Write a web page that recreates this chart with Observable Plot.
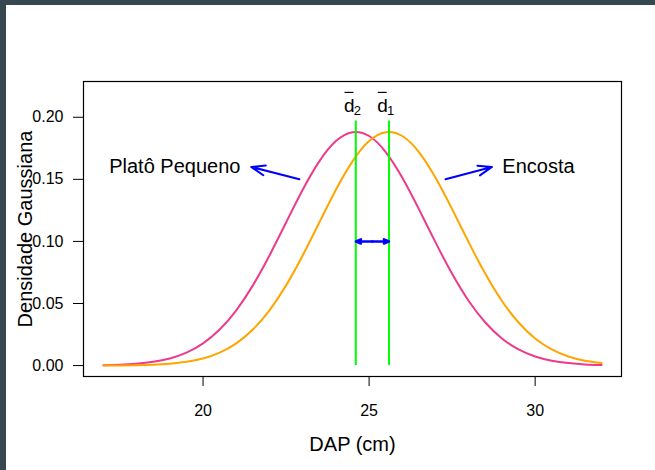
<!DOCTYPE html>
<html><head><meta charset="utf-8">
<script src="https://cdn.jsdelivr.net/npm/d3@7"></script>
<script src="https://cdn.jsdelivr.net/npm/@observablehq/plot@0.6"></script>
<style>
html,body{margin:0;padding:0;background:#fff;}
#wrap{position:relative;width:655px;height:470px;overflow:hidden;background:#fff;}
#chart svg{display:block;}
.bt{position:absolute;left:0;top:0;width:655px;height:5px;background:#37474f;}
.bl{position:absolute;left:0;top:0;width:6px;height:470px;background:#37474f;}
</style></head><body>
<div id="wrap"><div id="chart"></div><div class="bt"></div><div class="bl"></div></div>
<script>
// DAP (cm) sample positions
const dap = [17,17.5,18,18.5,19,19.5,20,20.5,21,21.5,22,22.5,23,23.5,24,24.5,25,25.5,26,26.5,27,27.5,28,28.5,29,29.5,30,30.5,31,31.5,32];
// Gaussian density: Platô Pequeno (pink)
const platoPequeno = [0.0003,0.0007,0.0015,0.0030,0.0057,0.0104,0.0179,0.0290,0.0445,0.0646,0.0887,0.1152,0.1416,0.1645,0.1808,0.1880,0.1849,0.1720,0.1513,0.1260,0.0992,0.0739,0.0520,0.0347,0.0218,0.0130,0.0073,0.0039,0.0020,0.0009,0.0004];
// Encosta (orange)
const encosta = [0.0001,0.0001,0.0003,0.0007,0.0015,0.0030,0.0057,0.0104,0.0179,0.0290,0.0445,0.0646,0.0887,0.1152,0.1416,0.1645,0.1808,0.1880,0.1849,0.1720,0.1513,0.1260,0.0992,0.0739,0.0520,0.0347,0.0218,0.0130,0.0073,0.0039,0.0020];
// means: d2 (Platô Pequeno), d1 (Encosta)
const means = [24.6, 25.6];
const meanSubs = ["2", "1"];
const meanLineTop = 0.197;
const meanLabelY = 0.209;
const overlineY = 0.22;
const doubleArrowY = 0.10;
const xTicks = [20, 25, 30];
const yTicks = [0, 0.05, 0.10, 0.15, 0.20];
const groupNames = ["Platô Pequeno", "Encosta"];
const groupLabelX = [19.15, 30.1];
const groupLabelY = [0.16, 0.16];
const arrowTailX = [22.9, 27.3];
const arrowTailY = [0.15, 0.15];
const arrowTipX = [21.45, 28.7];
const arrowTipY = [0.16, 0.16];

const pinkRows = dap.map((x, i) => ({x, y: platoPequeno[i]}));
const orangeRows = dap.map((x, i) => ({x, y: encosta[i]}));
const meanRows = means.map((m, i) => ({m, sub: meanSubs[i]}));
const labelRows = groupNames.map((t, i) => ({t, x: groupLabelX[i], y: groupLabelY[i]}));
const arrowRows = groupNames.map((t, i) => ({x1: arrowTailX[i], y1: arrowTailY[i], x2: arrowTipX[i], y2: arrowTipY[i]}));
const mid = (means[0] + means[1]) / 2;
const dblRows = means.map(m => ({x1: mid, x2: m, y: doubleArrowY}));

const chart = Plot.plot({
  width: 655,
  height: 470,
  marginLeft: 83,
  marginRight: 34,
  marginTop: 81,
  marginBottom: 94,
  style: {fontFamily: "'Liberation Sans', Arial, sans-serif", fontSize: "16px", background: "transparent", color: "black"},
  x: {domain: [16.4, 32.6]},
  y: {domain: [-0.0088, 0.2288]},
  marks: [
    Plot.frame({stroke: "black", strokeWidth: 1.2}),
    Plot.axisX({ticks: xTicks, tickSize: 10, tickPadding: 18, label: null, fontSize: 16}),
    Plot.axisY({ticks: yTicks, tickFormat: d3.format(".2f"), tickSize: 10, tickPadding: 10, label: null, fontSize: 16}),
    Plot.line(pinkRows, {x: "x", y: "y", stroke: "#EE3A8C", strokeWidth: 2, curve: "natural"}),
    Plot.line(orangeRows, {x: "x", y: "y", stroke: "#FFA500", strokeWidth: 2, curve: "natural"}),
    Plot.ruleX(meanRows, {x: "m", y1: 0, y2: meanLineTop, stroke: "#00FF00", strokeWidth: 2}),
    Plot.arrow(arrowRows, {x1: "x1", y1: "y1", x2: "x2", y2: "y2", stroke: "#0000FF", strokeWidth: 2, headLength: 11, headAngle: 40}),
    Plot.arrow(dblRows, {x1: "x1", y1: "y", x2: "x2", y2: "y", stroke: "#0000FF", strokeWidth: 2.5, headLength: 9, headAngle: 45}),
    Plot.text(labelRows, {x: "x", y: "y", text: "t", fontSize: 20, lineAnchor: "middle", textAnchor: "middle"}),
    Plot.text(meanRows, {x: "m", y: meanLabelY, text: () => "d", fontSize: 19, dx: -6.5, lineAnchor: "middle"}),
    Plot.text(meanRows, {x: "m", y: meanLabelY, text: "sub", fontSize: 13, dx: 1.5, dy: 4.6, lineAnchor: "middle"}),
    Plot.link(meanRows, {x1: d => d.m - 0.34, x2: d => d.m - 0.07, y1: overlineY, y2: overlineY, stroke: "black", strokeWidth: 1.2}),
    Plot.text(["DAP (cm)"], {frameAnchor: "bottom", dy: 67.6, fontSize: 20, lineAnchor: "middle", textAnchor: "middle"}),
    Plot.text(["Densidade Gaussiana"], {frameAnchor: "left", rotate: -90, dx: -58, fontSize: 20, lineAnchor: "middle", textAnchor: "middle"})
  ]
});
document.getElementById("chart").appendChild(chart);
</script>
</body></html>
